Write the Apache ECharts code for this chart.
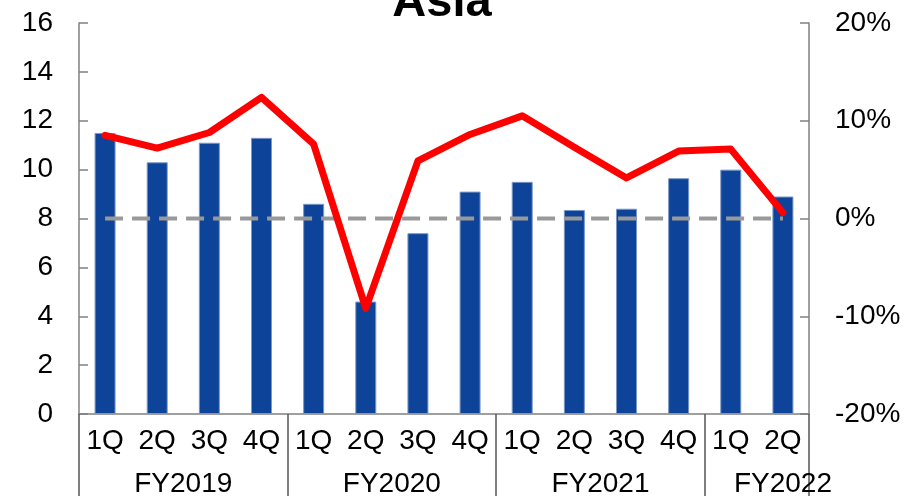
<!DOCTYPE html>
<html>
<head>
<meta charset="utf-8">
<script src="https://cdn.jsdelivr.net/npm/echarts@6/dist/echarts.min.js"></script>
<style>
html,body{margin:0;padding:0;background:#fff;}
#chart{width:904px;height:498px;}
</style>
</head>
<body>
<div id="chart"></div>
<script>
var titleText = 'Asia';
var quarters = ['1Q','2Q','3Q','4Q','1Q','2Q','3Q','4Q','1Q','2Q','3Q','4Q','1Q','2Q'];
var fiscalYears = ['FY2019','FY2020','FY2021','FY2022'];
var quartersPerYear = [4, 4, 4, 2];
var salesValues = [11.5, 10.3, 11.1, 11.3, 8.6, 4.6, 7.4, 9.1, 9.5, 8.35, 8.4, 9.65, 10.0, 8.9];
var growthPct = [8.5, 7.2, 8.8, 12.4, 7.6, -9.2, 5.9, 8.6, 10.5, 7.3, 4.15, 6.9, 7.1, 0.6];
var zeroLine = [0, 0, 0, 0, 0, 0, 0, 0, 0, 0, 0, 0, 0, 0];
var leftTicks = [0, 16, 2];
var rightTicks = [-20, 20, 10];

var FONT = '"Liberation Sans", Arial, sans-serif';

var groupStarts = [];
var acc = 0;
quartersPerYear.forEach(function (n) { groupStarts.push(acc); acc += n; });
var yearLabelPos = {};
quartersPerYear.forEach(function (n, i) {
  var c = groupStarts[i] + n / 2;
  if (i === quartersPerYear.length - 1) c += 0.5;
  yearLabelPos[String(c)] = fiscalYears[i];
});

var chart = echarts.init(document.getElementById('chart'));
chart.setOption({
  animation: false,
  backgroundColor: '#fff',
  graphic: [{
    type: 'text',
    x: 442,
    y: -20,
    style: {
      text: titleText,
      font: 'bold 47px ' + FONT,
      fill: '#000',
      align: 'center',
      verticalAlign: 'top'
    }
  }],
  grid: { left: 79, right: 95, top: 23, bottom: 82, containLabel: false },
  xAxis: [{
    type: 'category',
    data: quarters,
    position: 'bottom',
    boundaryGap: true,
    axisLine: { show: true, lineStyle: { color: '#808080', width: 1.5 } },
    axisTick: {
      show: true,
      length: 82,
      interval: function (index) { return groupStarts.indexOf(index) >= 0; },
      lineStyle: { color: '#555', width: 1.5 }
    },
    axisLabel: { interval: 0, color: '#000', fontSize: 28, fontFamily: FONT, margin: 13 },
    splitLine: { show: false }
  }, {
    type: 'value',
    position: 'bottom',
    min: 0,
    max: quarters.length,
    interval: 0.5,
    axisLine: { show: false },
    axisTick: { show: false },
    splitLine: { show: false },
    axisLabel: {
      color: '#000', fontSize: 28, fontFamily: FONT, margin: 56,
      showMinLabel: true, showMaxLabel: true,
      formatter: function (v) { return yearLabelPos[String(v)] || ''; }
    }
  }],
  yAxis: [{
    type: 'value',
    min: leftTicks[0], max: leftTicks[1], interval: leftTicks[2],
    position: 'left',
    axisLine: { show: true, lineStyle: { color: '#808080', width: 1.5 } },
    axisTick: { show: true, inside: true, length: 9, lineStyle: { color: '#808080', width: 1.5 } },
    axisLabel: { color: '#000', fontSize: 28, fontFamily: FONT, margin: 26 },
    splitLine: { show: false }
  }, {
    type: 'value',
    min: rightTicks[0], max: rightTicks[1], interval: rightTicks[2],
    position: 'right',
    axisLine: { show: true, lineStyle: { color: '#808080', width: 1.5 } },
    axisTick: { show: true, inside: true, length: 9, lineStyle: { color: '#808080', width: 1.5 } },
    axisLabel: { color: '#000', fontSize: 28, fontFamily: FONT, margin: 26, formatter: '{value}%' },
    splitLine: { show: false }
  }],
  series: [{
    type: 'bar',
    xAxisIndex: 0,
    yAxisIndex: 0,
    data: salesValues,
    barWidth: 21,
    itemStyle: { color: '#0d4499', borderColor: '#7b97c8', borderWidth: 1 },
    z: 2
  }, {
    type: 'line',
    xAxisIndex: 0,
    yAxisIndex: 1,
    data: zeroLine,
    symbol: 'none',
    lineStyle: { color: '#999999', width: 4, type: [18, 9] },
    z: 3
  }, {
    type: 'line',
    xAxisIndex: 0,
    yAxisIndex: 1,
    data: growthPct,
    symbol: 'none',
    lineStyle: { color: '#ff0000', width: 7, join: 'round', cap: 'round' },
    z: 4
  }]
});
</script>
</body>
</html>
